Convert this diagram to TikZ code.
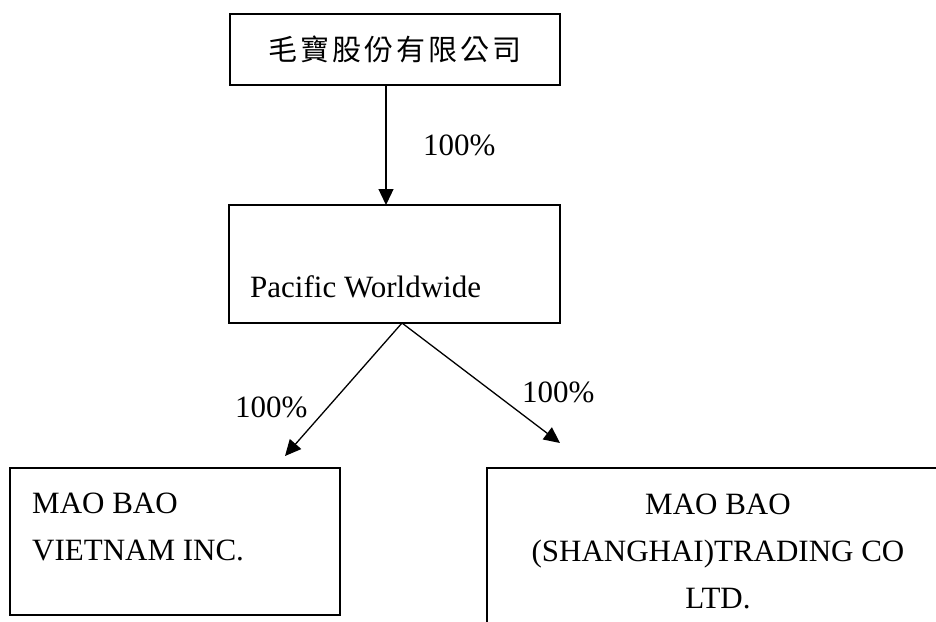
\documentclass[tikz,border=0pt]{standalone}
\usepackage{fontspec}
\setmainfont{Liberation Serif}
\newfontfamily\cjkfont[LetterSpace=10]{Noto Sans CJK TC}
\usetikzlibrary{arrows.meta}
\begin{document}
\begin{tikzpicture}[x=1pt,y=-1pt,
  box/.style={draw, line width=1.4pt, rectangle, inner sep=0pt},
  txt/.style={font=\fontsize{31}{47}\selectfont, inner sep=0pt},
  conn/.style={line width=1.3pt, -{Triangle[length=16pt,width=15pt]}}]
\useasboundingbox (0,0) rectangle (936,621);
\clip (0,0) rectangle (936,621);
% boxes
\node[box, minimum width=330pt, minimum height=71pt, font=\fontsize{29}{34}\selectfont] (top) at (395,49.5) {\cjkfont 毛寶股份有限公司};
\node[box, minimum width=331pt, minimum height=118pt] (mid) at (394.5,264) {};
\node[txt, anchor=base west] (midt) at (250,297) {Pacific Worldwide};
\node[box, minimum width=330pt, minimum height=147pt] (vn) at (175,541.5) {};
\node[txt, anchor=base west, align=left] (vnt) at (32,560) {MAO BAO\\VIETNAM INC.};
\node[box, minimum width=462pt, minimum height=220pt] (sh) at (718,578) {};
\node[txt, anchor=base, align=center] (sht) at (718,608) {MAO BAO\\(SHANGHAI)TRADING CO\\LTD.};
% connector points
\coordinate (a1) at (386,85);
\coordinate (a2) at (386,205);
\coordinate (b0) at (402,323);
\coordinate (b1) at (285,456);
\coordinate (b2) at (560,443);
\draw[conn] (a1) -- (a2);
\draw[conn] (b0) -- (b1);
\draw[conn] (b0) -- (b2);
% labels
\node[txt, anchor=base west] (l1) at (423,155) {100\%};
\node[txt, anchor=base west] (l2) at (235,417) {100\%};
\node[txt, anchor=base west] (l3) at (522,402) {100\%};
\end{tikzpicture}
\end{document}
